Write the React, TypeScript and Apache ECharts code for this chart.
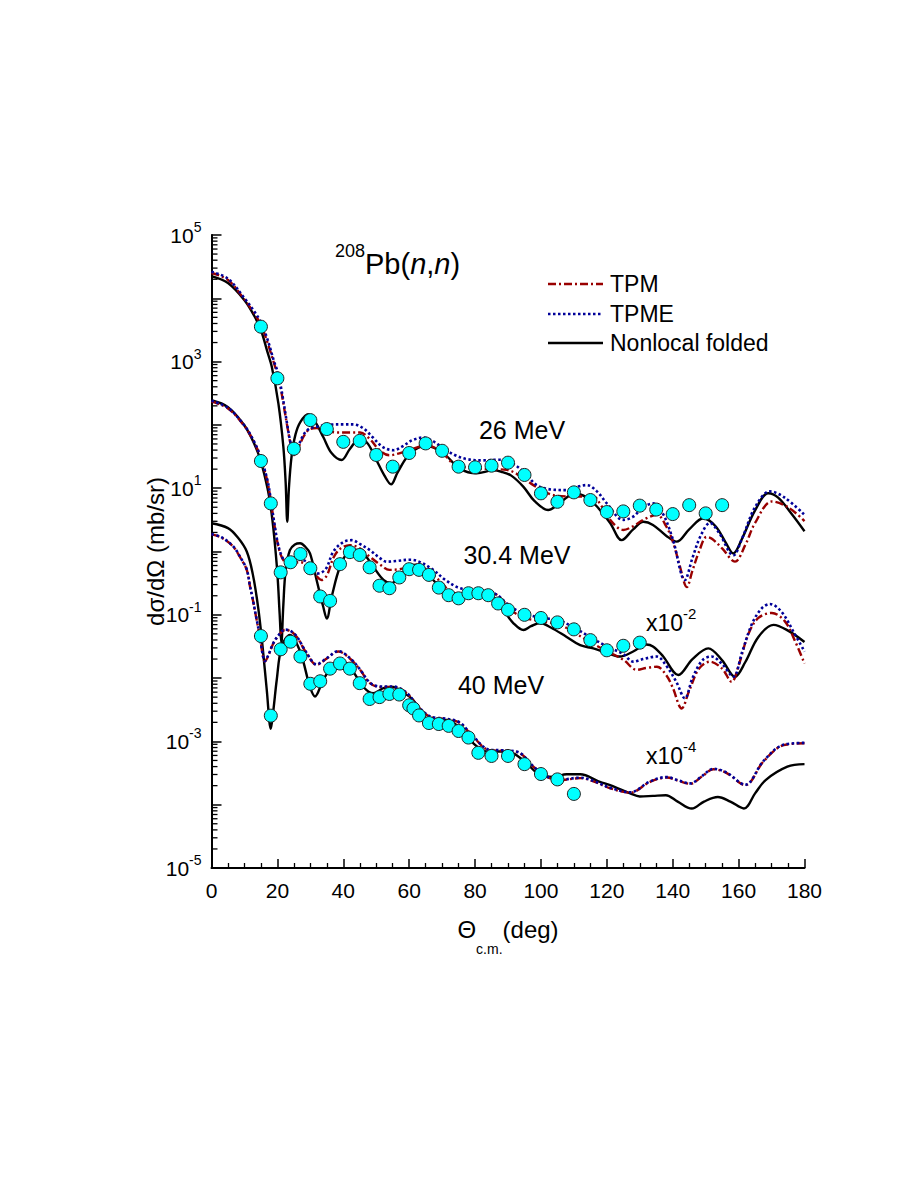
import React, { useEffect, useRef } from 'react';
import * as echarts from 'echarts';

const FONT = '"Liberation Sans", Arial, Helvetica, sans-serif';

// ---------- 26 MeV ----------
const data26: [number, number][] = [
  [15, 3560], [20, 545], [25, 42], [30, 119], [35, 86], [40, 54], [45, 56], [50, 33.5], [55, 21.9],
  [60, 36], [65, 51], [70, 39], [75, 21.9], [80, 21.4], [85, 22.7], [90, 25.3], [95, 16.2], [100, 8.3],
  [105, 6.1], [110, 8.6], [115, 6.5], [120, 4.2], [125, 4.3], [130, 5.3], [135, 4.6], [140, 3.9],
  [145, 5.4], [150, 4.0], [155, 5.4],
];
const nonlocal26: [number, number][] = [
  [0, 22400], [5, 17400], [10, 9330], [13, 5250], [15, 3160], [17, 1410], [18.3, 832], [20.3, 219],
  [21.8, 45.7], [22.5, 12.6], [23, 2.95], [23.5, 10], [24.3, 31.6], [25.5, 70.8], [27, 112], [29.4, 148],
  [31.5, 112], [34, 63.1], [36.5, 35.5], [39.5, 27.9], [42, 41.7], [45.1, 61.7], [47.5, 50.1], [50, 28.2],
  [52.5, 15.8], [54.5, 11.5], [56.5, 17.8], [60.3, 35.5], [65.3, 46.8], [70.4, 35.5], [75.4, 20.4],
  [80.5, 17.2], [85.5, 19.1], [88, 18.2], [91, 15.8], [94.7, 10.5], [98, 6.31], [102.2, 4.52], [106, 6.03],
  [110.4, 8.32], [114, 7.08], [117, 5.13], [121, 2.82], [124.5, 1.51], [128, 2.24], [131.1, 2.95],
  [134, 2.63], [138, 1.78], [141.2, 1.43], [145, 2.24], [149.3, 3.35], [153, 2.51], [156, 1.41],
  [158.4, 0.933], [161, 1.58], [165, 4.47], [169, 8.32], [172, 7.08], [176, 3.98], [180, 2.09],
];
const tpm26: [number, number][] = [
  [0, 25100], [5, 19500], [10, 9550], [13, 5750], [15, 3800], [17, 2000], [19, 933], [20, 631], [21, 380],
  [22, 191], [23, 95.5], [24, 50.1], [25.1, 33.5], [26, 39.8], [28, 66.1], [29.5, 83.2], [31.9, 89.1],
  [35, 81.3], [38, 75.9], [42, 75.9], [45.1, 75.9], [48, 60.3], [51, 39.8], [54, 33.1], [57, 35.5],
  [60, 39.8], [65.3, 47.9], [70, 36.3], [73.4, 24.5], [77, 21.4], [81.5, 20.4], [85, 20.0], [89.6, 19.5],
  [94.7, 14.5], [97.7, 11.2], [103.8, 7.76], [109.8, 7.41], [115.9, 7.41], [118, 5.62], [121, 3.16],
  [125, 2.19], [128, 2.51], [131, 3.16], [135.2, 3.8], [138, 2.51], [140.2, 1.35], [142, 0.631],
  [144.3, 0.275], [146, 0.501], [148, 1.0], [150.3, 1.7], [152, 1.58], [155, 1.12], [158.9, 0.692],
  [162, 1.26], [165, 2.82], [170.1, 6.17], [175, 5.01], [180, 3.02],
];
const tpme26: [number, number][] = [
  [0, 26300], [5, 20400], [10, 10000], [13, 6170], [15, 4170], [17, 2240], [19, 1000], [20, 708],
  [21, 417], [22, 209], [23, 100], [24, 52.5], [25.2, 35.5], [26, 41.7], [28, 70.8], [30, 89.1],
  [31.9, 93.3], [35, 100], [40, 102], [43, 102], [46, 89.1], [49, 63.1], [52, 44.7], [55.2, 39.8],
  [58, 45.7], [61, 57.5], [64.3, 63.1], [67, 56.2], [70.4, 42.7], [74, 33.1], [77.5, 28.8], [82, 27.5],
  [87.6, 28.2], [91, 25.1], [95, 17.8], [98.7, 11.2], [103, 9.55], [107.8, 9.33], [110.9, 10.5],
  [113.9, 11.2], [117, 8.91], [120, 5.75], [125, 3.16], [128, 3.55], [131, 5.01], [134.1, 5.75],
  [137, 3.98], [140, 1.58], [143.7, 0.355], [146, 0.794], [148.5, 1.78], [151.3, 2.82], [154, 2.0],
  [158.4, 0.871], [161, 1.58], [165, 5.01], [169.5, 8.91], [174, 7.08], [180, 3.8],
];

// ---------- 30.4 MeV (x10^-2) ----------
const data30: [number, number][] = [
  [15, 26.9], [18, 5.75], [21, 0.468], [24, 0.676], [27, 0.912], [30, 0.543], [33, 0.195], [36, 0.166],
  [39, 0.631], [42, 0.977], [45, 0.881], [48, 0.562], [51, 0.288], [54, 0.263], [57, 0.389], [60, 0.525],
  [63, 0.513], [66, 0.427], [69, 0.269], [72, 0.204], [75, 0.182], [78, 0.219], [81, 0.219], [84, 0.204],
  [87, 0.151], [90, 0.12], [95, 0.1], [100, 0.0891], [105, 0.0759], [110, 0.0589], [115, 0.0398],
  [120, 0.0275], [125, 0.0324], [130, 0.0363],
];
const nonlocal30: [number, number][] = [
  [0, 245], [5, 191], [10, 97.7], [13, 50.1], [15, 26.3], [17, 10], [18, 5.01], [19, 1.78], [20, 0.447],
  [20.7, 0.1], [21.2, 0.0355], [21.8, 0.141], [22.5, 0.501], [23.8, 1.05], [25.3, 1.29], [26.9, 1.35],
  [28.4, 1.2], [29.9, 0.933], [31.9, 0.355], [33.9, 0.135], [35, 0.0871], [36.5, 0.195], [39, 0.575],
  [42, 1.05], [43.5, 1.07], [46.1, 0.933], [49.1, 0.575], [52.2, 0.355], [54.5, 0.316], [57.2, 0.398],
  [60.3, 0.617], [63.3, 0.603], [67.3, 0.355], [70, 0.251], [72.4, 0.204], [75, 0.209], [78, 0.214],
  [81.5, 0.219], [84, 0.2], [86.6, 0.17], [89, 0.112], [91.6, 0.0741], [94.7, 0.0575], [97, 0.0661],
  [99.7, 0.0741], [103, 0.0631], [107.8, 0.0447], [111.9, 0.0331], [115.9, 0.0295], [120, 0.0251],
  [124, 0.0219], [128, 0.0263], [132, 0.0339], [134, 0.0316], [137, 0.0224], [141.7, 0.0112],
  [146, 0.02], [150.8, 0.0295], [155, 0.0191], [158.9, 0.0105], [162, 0.0178], [166, 0.0447],
  [170.6, 0.0692], [175, 0.0562], [180, 0.0372],
];
const tpm30: [number, number][] = [
  [0, 234], [5, 182], [10, 95.5], [13, 52.5], [15, 29.5], [17, 12.6], [18, 6.31], [19, 2.82], [20, 1.41],
  [21, 0.891], [22, 0.708], [23.8, 0.617], [25, 0.661], [27, 0.676], [29, 0.603], [31, 0.468],
  [33.4, 0.355], [35, 0.417], [37, 0.794], [39, 1.1], [42, 1.26], [45, 1.12], [48, 0.832], [51, 0.631],
  [54, 0.513], [57, 0.525], [60, 0.575], [62.3, 0.617], [65, 0.525], [67.3, 0.427], [70, 0.316],
  [73.4, 0.219], [77.5, 0.219], [81, 0.224], [85.5, 0.219], [88, 0.178], [91.6, 0.112], [95, 0.0891],
  [100, 0.0794], [105.8, 0.0692], [110, 0.0525], [114.9, 0.0372], [119.5, 0.0275], [125, 0.0195],
  [129.1, 0.0135], [132, 0.0145], [135.2, 0.0151], [138, 0.0112], [140, 0.00708], [142.7, 0.00331],
  [145, 0.00631], [148, 0.0141], [151.3, 0.0182], [155, 0.0141], [157.9, 0.00871], [160, 0.0158],
  [163, 0.0501], [166, 0.0891], [170.1, 0.107], [174, 0.0794], [177, 0.0398], [180, 0.017],
];
const tpme30: [number, number][] = [
  [0, 240], [5, 186], [10, 97.7], [13, 53.7], [15, 30.2], [17, 13.2], [18, 6.61], [19, 2.95], [20, 1.45],
  [21, 0.933], [22, 0.741], [23.8, 0.646], [25, 0.692], [27, 0.741], [30, 0.631], [31.9, 0.447],
  [33.5, 0.468], [35, 0.562], [37, 1.0], [40, 1.41], [42.6, 1.51], [45, 1.32], [48.1, 1.05], [51, 0.794],
  [53.2, 0.692], [56, 0.708], [60.3, 0.741], [63, 0.692], [67.3, 0.513], [71, 0.355], [75.4, 0.263],
  [80.5, 0.245], [84, 0.24], [87, 0.2], [91, 0.132], [95, 0.105], [100, 0.0891], [105, 0.0832],
  [110, 0.0631], [114.9, 0.0447], [120, 0.0316], [125, 0.024], [128, 0.0182], [131, 0.02], [135.2, 0.0219],
  [138, 0.0158], [141, 0.00891], [143.7, 0.00479], [146, 0.01], [149, 0.0191], [151.8, 0.0219],
  [155, 0.0166], [158.4, 0.0105], [161, 0.0251], [164, 0.0708], [167, 0.126], [169.5, 0.148],
  [173, 0.112], [177, 0.0501], [180, 0.0263],
];

// ---------- 40 MeV (x10^-4) ----------
const data40: [number, number][] = [
  [15, 0.0462], [18, 0.00255], [21, 0.0285], [24, 0.0376], [27, 0.0219], [30, 0.00813], [33, 0.00891],
  [36, 0.0141], [39, 0.017], [42, 0.0141], [45, 0.00832], [48, 0.00468], [51, 0.00501], [54, 0.00562],
  [57, 0.0055], [60, 0.00372], [61.3, 0.00331], [63, 0.00257], [66, 0.00195], [69, 0.00188],
  [72, 0.00176], [75, 0.00146], [78, 0.00115], [81, 0.00066], [85, 0.000589], [90, 0.000589],
  [95, 0.000437], [100, 0.000305], [105, 0.000251], [110, 0.000148],
];
const nonlocal40: [number, number][] = [
  [0, 2.79], [5, 2.34], [8, 1.66], [10.7, 1.0], [12.5, 0.447], [14.2, 0.126], [15.5, 0.0316],
  [16.8, 0.00631], [18, 0.00158], [18.8, 0.00316], [19.8, 0.00933], [21.3, 0.0316], [23.8, 0.0479],
  [26.9, 0.0263], [29.9, 0.00724], [31.4, 0.00513], [33.9, 0.00933], [37, 0.0162], [40, 0.0182],
  [43, 0.0126], [46.1, 0.00724], [49.1, 0.00575], [52.2, 0.00692], [55.2, 0.00724], [57.2, 0.00631],
  [61.3, 0.00447], [64.3, 0.00245], [68.4, 0.00219], [71.4, 0.00219], [75.4, 0.00162], [79.5, 0.000933],
  [83.5, 0.000692], [87.6, 0.000692], [91.6, 0.000646], [95.7, 0.000447], [99.7, 0.000295],
  [103.8, 0.000275], [107.8, 0.000302], [111.9, 0.000302], [117.9, 0.000229], [121, 0.000204],
  [127.1, 0.000151], [130, 0.000135], [134, 0.000138], [137.9, 0.000141], [141.5, 0.000112],
  [145.8, 0.0000871], [149.5, 0.000112], [153.7, 0.000132], [157.5, 0.000112], [161.6, 0.0000871],
  [165, 0.000151], [168.2, 0.000245], [174.8, 0.000398], [180, 0.000437],
];
const tpm40: [number, number][] = [
  [0, 1.86], [3, 1.66], [6.6, 1.19], [9, 0.759], [10.7, 0.513], [11.7, 0.278], [12.5, 0.178],
  [13.7, 0.0832], [14.7, 0.0447], [15.5, 0.024], [16.2, 0.0182], [17.2, 0.0224], [18.8, 0.0355],
  [20.5, 0.0479], [22.3, 0.0575], [24, 0.055], [25.9, 0.0447], [28.9, 0.0245], [31.9, 0.0162],
  [35, 0.0204], [38.5, 0.0263], [42, 0.0204], [45.1, 0.0135], [48.1, 0.00832], [51.2, 0.00724],
  [55.2, 0.00724], [59.3, 0.00575], [62.3, 0.00372], [66.3, 0.00245], [71.4, 0.00224], [75.4, 0.00195],
  [79.5, 0.00117], [84.5, 0.000724], [89.6, 0.000708], [93.7, 0.000646], [97.7, 0.000398],
  [101.8, 0.000275], [105.8, 0.000245], [111.9, 0.000263], [115.9, 0.000234], [121, 0.000182],
  [127.1, 0.000155], [133.1, 0.000229], [138.2, 0.000269], [141.5, 0.00024], [145.3, 0.000214],
  [149, 0.000282], [152.3, 0.000363], [156.4, 0.000316], [162, 0.000204], [167.5, 0.000479],
  [173.6, 0.000871], [180, 0.000933],
];
const tpme40: [number, number][] = [
  [0, 1.88], [3, 1.68], [6.6, 1.2], [9, 0.77], [10.7, 0.52], [11.7, 0.282], [12.5, 0.18],
  [13.7, 0.0845], [14.7, 0.0453], [15.5, 0.0243], [16.2, 0.0185], [17.2, 0.0228], [18.8, 0.036],
  [20.5, 0.0486], [22.3, 0.0584], [24, 0.0558], [25.9, 0.0453], [28.9, 0.0249], [31.9, 0.0165],
  [35, 0.0207], [38.5, 0.0267], [42, 0.0207], [45.1, 0.0137], [48.1, 0.00845], [51.2, 0.00735],
  [55.2, 0.00735], [59.3, 0.00584], [62.3, 0.00378], [66.3, 0.00249], [71.4, 0.00228], [75.4, 0.00198],
  [79.5, 0.00119], [84.5, 0.000735], [89.6, 0.000719], [93.7, 0.000656], [97.7, 0.000404],
  [101.8, 0.000279], [105.8, 0.000249], [111.9, 0.000267], [115.9, 0.000238], [121, 0.000185],
  [127.1, 0.000157], [133.1, 0.000233], [138.2, 0.000273], [141.5, 0.000244], [145.3, 0.000217],
  [149, 0.000286], [152.3, 0.000369], [156.4, 0.000321], [162, 0.000207], [167.5, 0.000486],
  [173.6, 0.000885], [180, 0.000948],
];

// ---------- axis ticks ----------
const X_TICKS = [0, 20, 40, 60, 80, 100, 120, 140, 160, 180];
const Y_DECADES = [-5, -4, -3, -2, -1, 0, 1, 2, 3, 4];
const Y_MINOR_MULTIPLIERS = [2, 3, 4, 5, 6, 7, 8, 9];

const LEGEND_NAMES = ['TPM', 'TPME', 'Nonlocal folded'];
const ENERGY_LABELS = ['26 MeV', '30.4 MeV', '40 MeV'];

const RED = '#990000';
const BLUE = '#000099';
const CYAN = '#00FFFF';
const DASH_DOT = [8, 3, 2, 3];
const DOTS = [2.5, 2.5];

export default function App() {
  const ref = useRef<HTMLDivElement>(null);

  useEffect(() => {
    if (!ref.current) return;
    const chart = echarts.init(ref.current, undefined, { renderer: 'svg' });

    const minorTickData: [number, number][] = [];
    Y_DECADES.forEach((d) => {
      Y_MINOR_MULTIPLIERS.forEach((m) => {
        minorTickData.push([X_TICKS[0], m * Math.pow(10, d)]);
      });
    });

    const lineSeries = (name: string, data: [number, number][], kind: 'tpm' | 'tpme' | 'nl') => ({
      name,
      type: 'line',
      data,
      showSymbol: false,
      symbol: 'none',
      smooth: 0.35,
      z: kind === 'nl' ? 2 : kind === 'tpm' ? 3 : 4,
      lineStyle: {
        color: kind === 'nl' ? '#000' : kind === 'tpm' ? RED : BLUE,
        width: kind === 'tpme' ? 2.6 : 2.4,
        type: kind === 'nl' ? 'solid' : kind === 'tpm' ? DASH_DOT : DOTS,
        cap: 'butt',
      },
      emphasis: { disabled: true },
      silent: true,
    });

    const scatterSeries = (name: string, data: [number, number][]) => ({
      name,
      type: 'scatter',
      data,
      symbol: 'circle',
      symbolSize: 13,
      z: 6,
      itemStyle: { color: CYAN, borderColor: '#222', borderWidth: 1, opacity: 1 },
      emphasis: { disabled: true },
      silent: true,
    });

    const legendY = [284, 314, 343];
    const legendStyles = [
      { stroke: RED, lineDash: DASH_DOT, lineWidth: 2.4 },
      { stroke: BLUE, lineDash: DOTS, lineWidth: 2.6 },
      { stroke: '#000', lineDash: null as any, lineWidth: 2.4 },
    ];

    const graphic: any[] = [];
    LEGEND_NAMES.forEach((n, i) => {
      graphic.push({
        type: 'line',
        shape: { x1: 548, y1: legendY[i], x2: 603, y2: legendY[i] },
        style: { ...legendStyles[i], lineCap: 'butt' },
        silent: true,
      });
      graphic.push({
        type: 'text',
        x: 610,
        y: legendY[i],
        style: {
          text: n, fill: '#000', font: `23px ${FONT}`,
          textAlign: 'left', align: 'left', textVerticalAlign: 'middle', verticalAlign: 'middle',
        },
        silent: true,
      });
    });
    const energyPos = [[522, 430], [517, 555], [501, 685]];
    ENERGY_LABELS.forEach((t, i) => {
      graphic.push({
        type: 'text',
        x: energyPos[i][0],
        y: energyPos[i][1],
        style: {
          text: t, fill: '#000', font: `25px ${FONT}`,
          textAlign: 'center', align: 'center', textVerticalAlign: 'middle', verticalAlign: 'middle',
        },
        silent: true,
      });
    });
    const scaleRich = {
      m: { fontSize: 23, fontFamily: FONT, color: '#000', lineHeight: 34 },
      s: { fontSize: 15, fontFamily: FONT, color: '#000', lineHeight: 14, verticalAlign: 'top' },
    };
    [['-2', 623], ['-4', 756]].forEach(([e, y]) => {
      graphic.push({
        type: 'text',
        x: 646,
        y: y as number,
        style: {
          text: `{m|x10}{s|${e}}`, rich: scaleRich,
          textAlign: 'left', align: 'left', textVerticalAlign: 'middle', verticalAlign: 'middle',
        },
        silent: true,
      });
    });
    graphic.push({
      type: 'text',
      x: 335,
      y: 264,
      style: {
        text: '{s|208}{m|Pb(}{i|n}{m|,}{i|n}{m|)}',
        rich: {
          s: { fontSize: 18, fontFamily: FONT, color: '#000', lineHeight: 14, verticalAlign: 'top' },
          m: { fontSize: 29, fontFamily: FONT, color: '#000', lineHeight: 44 },
          i: { fontSize: 29, fontFamily: FONT, fontStyle: 'italic', color: '#000', lineHeight: 44 },
        },
        textAlign: 'left', align: 'left', textVerticalAlign: 'middle', verticalAlign: 'middle',
      },
      silent: true,
    });

    chart.setOption({
      animation: false,
      backgroundColor: '#fff',
      textStyle: { fontFamily: FONT },
      grid: { left: 211.5, top: 235, width: 593, height: 633, containLabel: false },
      xAxis: {
        type: 'value',
        min: X_TICKS[0],
        max: X_TICKS[X_TICKS.length - 1],
        interval: 20,
        name: '{t|Θ}{s|c.m.}{t|(deg)}',
        nameLocation: 'middle',
        nameGap: 34,
        nameMoveOverlap: false,
        nameTextStyle: {
          rich: {
            t: { fontSize: 24, fontFamily: FONT, color: '#000', lineHeight: 54 },
            s: { fontSize: 14, fontFamily: FONT, color: '#000', lineHeight: 14, verticalAlign: 'bottom' },
          },
        },
        axisLine: { show: true, onZero: false, lineStyle: { color: '#000', width: 2 } },
        axisTick: { show: true, inside: true, length: 9, lineStyle: { color: '#000', width: 1.5 } },
        minorTick: { show: true, splitNumber: 4, length: 5, lineStyle: { color: '#000', width: 1.3 } },
        axisLabel: { color: '#000', fontSize: 21, fontFamily: FONT, margin: 12 },
        splitLine: { show: false },
        minorSplitLine: { show: false },
      },
      yAxis: {
        type: 'log',
        logBase: 10,
        min: 1e-5,
        max: 1e5,
        interval: 1,
        splitNumber: 10,
        name: 'dσ/dΩ (mb/sr)',
        nameLocation: 'middle',
        nameRotate: 90,
        nameGap: 44,
        nameMoveOverlap: false,
        nameTextStyle: { fontSize: 24, fontFamily: FONT, color: '#000' },
        axisLine: { show: true, onZero: false, lineStyle: { color: '#000', width: 2 } },
        axisTick: { show: true, inside: true, length: 10, lineStyle: { color: '#000', width: 1.5 } },
        minorTick: { show: false },
        axisLabel: {
          margin: 10,
          formatter: (v: number) => {
            const e = Math.round(Math.log10(v));
            if (e % 2 === 0) return '';
            return `{b|10}{s|${e}}`;
          },
          rich: {
            b: { fontSize: 21, fontFamily: FONT, color: '#000', lineHeight: 30 },
            s: { fontSize: 14, fontFamily: FONT, color: '#000', lineHeight: 16, verticalAlign: 'top' },
          },
        },
        splitLine: { show: false },
      },
      series: [
        {
          name: 'y minor ticks',
          type: 'custom',
          data: minorTickData,
          silent: true,
          clip: false,
          z: 1,
          renderItem: (_params: any, api: any) => {
            const p = api.coord([api.value(0), api.value(1)]);
            return {
              type: 'line',
              shape: { x1: p[0], y1: p[1], x2: p[0] + 6, y2: p[1] },
              style: { stroke: '#000', lineWidth: 1.3 },
            };
          },
        },
        lineSeries('Nonlocal folded 26 MeV', nonlocal26, 'nl'),
        lineSeries('TPM 26 MeV', tpm26, 'tpm'),
        lineSeries('TPME 26 MeV', tpme26, 'tpme'),
        lineSeries('Nonlocal folded 30.4 MeV', nonlocal30, 'nl'),
        lineSeries('TPM 30.4 MeV', tpm30, 'tpm'),
        lineSeries('TPME 30.4 MeV', tpme30, 'tpme'),
        lineSeries('Nonlocal folded 40 MeV', nonlocal40, 'nl'),
        lineSeries('TPM 40 MeV', tpm40, 'tpm'),
        lineSeries('TPME 40 MeV', tpme40, 'tpme'),
        scatterSeries('Data 26 MeV', data26),
        scatterSeries('Data 30.4 MeV', data30),
        scatterSeries('Data 40 MeV', data40),
      ],
      graphic,
    });

    return () => chart.dispose();
  }, []);

  return (
    <div
      ref={ref}
      style={{ position: 'absolute', left: 0, top: 0, width: 913, height: 1182, background: '#fff' }}
    />
  );
}
